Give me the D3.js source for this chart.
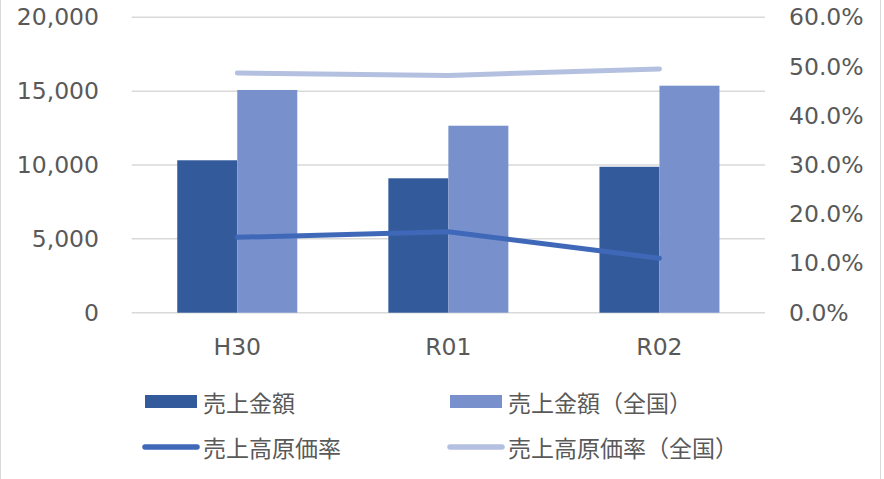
<!DOCTYPE html>
<html>
<head>
<meta charset="utf-8">
<script src="https://cdn.jsdelivr.net/npm/d3@7"></script>
<style>
body { margin: 0; background: #fff; }
svg { display: block; }
</style>
</head>
<body>
<div class="Graph"></div>
<script>
const categories = ["H30", "R01", "R02"];
const sales = [10320, 9100, 9880];          // 売上金額
const salesNational = [15080, 12660, 15370]; // 売上金額（全国）
const costRate = [0.153, 0.1645, 0.1105];    // 売上高原価率
const costRateNational = [0.487, 0.482, 0.495]; // 売上高原価率（全国）
const leftTicks = [0, 5000, 10000, 15000, 20000];
const rightTicks = [0, 0.1, 0.2, 0.3, 0.4, 0.5, 0.6];
const legendItems = [
    {name: "売上金額", type: "bar", color: "#335a9b"},
    {name: "売上金額（全国）", type: "bar", color: "#7891cd"},
    {name: "売上高原価率", type: "line", color: "#3f69b8"},
    {name: "売上高原価率（全国）", type: "line", color: "#b4c0e0"}
];

const W = 884, H = 479;
const plotTop = 17.3, plotBottom = 312.7, plotLeft = 131.7, plotRight = 765;
const numFont = "'DejaVu Sans', Verdana, sans-serif";
const jpFont = "'Noto Sans CJK JP', 'Noto Sans', sans-serif";
const textColor = "#595959";

let svg = d3.select(".Graph")
    .append("svg")
    .attr("width", W)
    .attr("height", H);

// chart border
svg.append("line").attr("x1", 0.5).attr("x2", 0.5).attr("y1", 0).attr("y2", H)
    .attr("stroke", "#d9d9d9").attr("stroke-width", 1);
svg.append("line").attr("x1", 880.5).attr("x2", 880.5).attr("y1", 0).attr("y2", H)
    .attr("stroke", "#d9d9d9").attr("stroke-width", 1);

let x = d3.scaleBand()
    .domain(categories)
    .range([plotLeft, plotRight]);

let y = d3.scaleLinear()
    .domain([0, 20000])
    .range([plotBottom, plotTop]);

let y2 = d3.scaleLinear()
    .domain([0, 0.6])
    .range([plotBottom, plotTop]);

// gridlines
svg.append("g")
    .selectAll("line")
    .data(leftTicks)
    .enter()
    .append("line")
    .attr("x1", plotLeft)
    .attr("x2", plotRight)
    .attr("y1", d => y(d))
    .attr("y2", d => y(d))
    .attr("stroke", "#d9d9d9")
    .attr("stroke-width", 1.5);

// left axis
let yAxis = svg.append("g")
    .attr("transform", "translate(99,0)")
    .call(d3.axisLeft(y).tickValues(leftTicks).tickSize(0).tickPadding(0).tickFormat(d3.format(",")));
yAxis.select(".domain").remove();
yAxis.selectAll("text")
    .attr("font-family", numFont)
    .attr("font-size", 23.5)
    .attr("fill", textColor);

// right axis
let y2Axis = svg.append("g")
    .attr("transform", "translate(789,0)")
    .call(d3.axisRight(y2).tickValues(rightTicks).tickSize(0).tickPadding(0).tickFormat(d3.format(".1%")));
y2Axis.select(".domain").remove();
y2Axis.selectAll("text")
    .attr("font-family", numFont)
    .attr("font-size", 23.5)
    .attr("fill", textColor);

// x axis labels
let xAxis = svg.append("g")
    .attr("transform", "translate(0," + plotBottom + ")")
    .call(d3.axisBottom(x).tickSize(0).tickPadding(0));
xAxis.select(".domain").remove();
xAxis.selectAll("text")
    .attr("dy", null)
    .attr("y", 42.5)
    .attr("font-family", numFont)
    .attr("font-size", 23.5)
    .attr("fill", textColor);

const barW = 60;
const cx = d => x(d) + x.bandwidth() / 2;

// bars
svg.append("g").selectAll("rect")
    .data(categories)
    .enter()
    .append("rect")
    .attr("x", d => cx(d) - barW)
    .attr("y", (d, i) => y(sales[i]))
    .attr("width", barW)
    .attr("height", (d, i) => plotBottom - y(sales[i]))
    .attr("fill", legendItems[0].color);

svg.append("g").selectAll("rect")
    .data(categories)
    .enter()
    .append("rect")
    .attr("x", d => cx(d))
    .attr("y", (d, i) => y(salesNational[i]))
    .attr("width", barW)
    .attr("height", (d, i) => plotBottom - y(salesNational[i]))
    .attr("fill", legendItems[1].color);

// lines
let line = d3.line()
    .x(d => cx(d[0]))
    .y(d => y2(d[1]));

svg.append("path")
    .datum(categories.map((c, i) => [c, costRateNational[i]]))
    .attr("d", line)
    .attr("fill", "none")
    .attr("stroke", legendItems[3].color)
    .attr("stroke-width", 5)
    .attr("stroke-linecap", "round")
    .attr("stroke-linejoin", "round");

svg.append("path")
    .datum(categories.map((c, i) => [c, costRate[i]]))
    .attr("d", line)
    .attr("fill", "none")
    .attr("stroke", legendItems[2].color)
    .attr("stroke-width", 5)
    .attr("stroke-linecap", "round")
    .attr("stroke-linejoin", "round");

// legend
const legX = [145, 450];
const legY = [401.5, 447];
let leg = svg.append("g").selectAll("g")
    .data(legendItems)
    .enter()
    .append("g")
    .attr("transform", (d, i) => "translate(" + legX[i % 2] + "," + legY[Math.floor(i / 2)] + ")");

leg.filter(d => d.type == "bar")
    .append("rect")
    .attr("x", 0)
    .attr("y", -6.5)
    .attr("width", 52)
    .attr("height", 13)
    .attr("fill", d => d.color);

leg.filter(d => d.type == "line")
    .append("line")
    .attr("x1", 0)
    .attr("x2", 52)
    .attr("y1", 0)
    .attr("y2", 0)
    .attr("stroke", d => d.color)
    .attr("stroke-width", 5.5)
    .attr("stroke-linecap", "round");

leg.append("text")
    .attr("x", 58)
    .attr("y", 0)
    .attr("dominant-baseline", "central")
    .attr("font-family", jpFont)
    .attr("font-size", 23)
    .attr("fill", textColor)
    .text(d => d.name);
</script>
</body>
</html>
